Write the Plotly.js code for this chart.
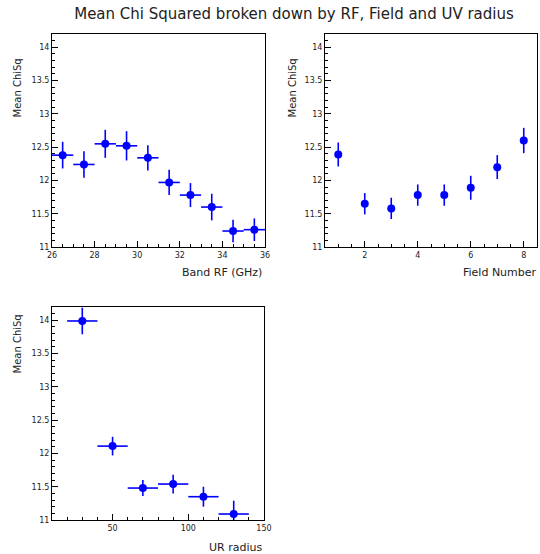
<!DOCTYPE html>
<html>
<head>
<meta charset="utf-8">
<script src="https://cdn.plot.ly/plotly-3.0.1.min.js"></script>
<style>html,body{margin:0;padding:0;background:#fff;}#chart{width:540px;height:554px;}</style>
</head>
<body>
<div id="chart"></div>
<script>
// ---- Data ----
const chartTitle = "Mean Chi Squared broken down by RF, Field and UV radius";
const yTitle = "Mean ChiSq";

// Panel 1: Band RF (GHz)
const rfX = [26.5, 27.5, 28.5, 29.5, 30.5, 31.5, 32.5, 33.5, 34.5, 35.5];
const rfY = [12.38, 12.24, 12.55, 12.52, 12.34, 11.97, 11.78, 11.60, 11.24, 11.26];
const rfErrY = [0.20, 0.20, 0.21, 0.22, 0.19, 0.19, 0.18, 0.20, 0.17, 0.17];
const rfErrX = [0.5, 0.5, 0.5, 0.5, 0.5, 0.5, 0.5, 0.5, 0.5, 0.5];
const rfTickVals = [26, 28, 30, 32, 34, 36];
const rfTickText = ["26", "28", "30", "32", "34", "36"];

// Panel 2: Field Number
const fieldX = [1, 2, 3, 4, 5, 6, 7, 8];
const fieldY = [12.39, 11.65, 11.58, 11.78, 11.78, 11.89, 12.20, 12.60];
const fieldErrY = [0.18, 0.16, 0.16, 0.16, 0.16, 0.18, 0.18, 0.19];
const fieldTickVals = [2, 4, 6, 8];
const fieldTickText = ["2", "4", "6", "8"];

// Panel 3: UV radius
const uvX = [30, 50, 70, 90, 110, 130];
const uvY = [13.99, 12.11, 11.48, 11.54, 11.35, 11.09];
const uvErrY = [0.20, 0.14, 0.12, 0.14, 0.15, 0.20];
const uvErrX = [10, 10, 10, 10, 10, 10];
const uvTickVals = [50, 100, 150];
const uvTickText = ["50", "100", "150"];

// Shared y ticks
const yTickVals = [11, 11.5, 12, 12.5, 13, 13.5, 14];
const yTickText = ["11", "11.5", "12", "12.5", "13", "13.5", "14"];

const xTitles = ["Band RF (GHz)", "Field Number", "UR radius"];

// ---- Helpers ----
const W = 540, H = 554;
const px = v => v / W;
const py = v => 1 - v / H;
const BLUE = '#0000ff';
const tickFont = {family: 'DejaVu Sans', size: 8, color: '#222'};
const titleFont = {family: 'DejaVu Sans', size: 11, color: '#222'};
const yTitleFont = {family: 'DejaVu Sans', size: 10, color: '#222'};

function axisBase(extra) {
  return Object.assign({
    showline: true, linecolor: '#000', linewidth: 1, mirror: true,
    ticks: 'inside', ticklen: 6, tickwidth: 1, tickcolor: '#000',
    showgrid: false, zeroline: false, tickfont: tickFont,
    tickmode: 'array', fixedrange: true
  }, extra);
}

function series(x, y, ey, ex, xa, ya) {
  const t = {
    type: 'scatter', mode: 'markers', x: x, y: y, xaxis: xa, yaxis: ya,
    marker: {color: BLUE, size: 8, symbol: 'circle'},
    error_y: {type: 'data', array: ey, visible: true, color: BLUE, thickness: 1.6, width: 0},
    showlegend: false, hoverinfo: 'x+y'
  };
  if (ex) t.error_x = {type: 'data', array: ex, visible: true, color: BLUE, thickness: 1.6, width: 0};
  return t;
}

const data = [
  series(rfX, rfY, rfErrY, rfErrX, 'x', 'y'),
  series(fieldX, fieldY, fieldErrY, null, 'x2', 'y2'),
  series(uvX, uvY, uvErrY, uvErrX, 'x3', 'y3')
];

const yCommon = {
  range: [11, 14.2], tickvals: yTickVals, ticktext: yTickText,
  minor: {ticks: 'inside', ticklen: 3, tickmode: 'linear', tick0: 11, dtick: 0.1, tickcolor: '#000', showgrid: false}
};

const layout = {
  width: W, height: H,
  margin: {l: 0, r: 0, t: 0, b: 0},
  paper_bgcolor: '#fff', plot_bgcolor: '#fff',
  title: {text: chartTitle, x: px(294), y: py(14), xanchor: 'center', yanchor: 'middle',
          xref: 'paper', yref: 'paper',
          font: {family: 'DejaVu Sans', size: 15, color: '#222'}},
  xaxis: axisBase({domain: [px(52), px(265)], range: [26, 36], anchor: 'y',
    tickvals: rfTickVals, ticktext: rfTickText,
    minor: {ticks: 'inside', ticklen: 3, tickmode: 'linear', tick0: 26, dtick: 0.5, tickcolor: '#000', showgrid: false}}),
  yaxis: axisBase(Object.assign({domain: [py(247), py(34)], anchor: 'x'}, yCommon)),
  xaxis2: axisBase({domain: [px(325), px(537)], range: [0.5, 8.5], anchor: 'y2',
    tickvals: fieldTickVals, ticktext: fieldTickText,
    minor: {ticks: 'inside', ticklen: 3, tickmode: 'linear', tick0: 0.5, dtick: 0.5, tickcolor: '#000', showgrid: false}}),
  yaxis2: axisBase(Object.assign({domain: [py(247), py(34)], anchor: 'x2'}, yCommon)),
  xaxis3: axisBase({domain: [px(52), px(264)], range: [10, 150], anchor: 'y3',
    tickvals: uvTickVals, ticktext: uvTickText,
    minor: {ticks: 'inside', ticklen: 3, tickmode: 'linear', tick0: 10, dtick: 10, tickcolor: '#000', showgrid: false}}),
  yaxis3: axisBase(Object.assign({domain: [py(520), py(307)], anchor: 'x3'}, yCommon)),
  annotations: [
    {text: xTitles[0], xref: 'paper', yref: 'paper', x: px(264), y: py(272), xanchor: 'right', yanchor: 'middle', showarrow: false, font: titleFont},
    {text: xTitles[1], xref: 'paper', yref: 'paper', x: px(539), y: py(272), xanchor: 'right', yanchor: 'middle', showarrow: false, font: titleFont},
    {text: xTitles[2], xref: 'paper', yref: 'paper', x: px(264), y: py(547), xanchor: 'right', yanchor: 'middle', showarrow: false, font: titleFont},
    {text: yTitle, xref: 'paper', yref: 'paper', x: px(17), y: py(57), xanchor: 'center', yanchor: 'top', textangle: -90, showarrow: false, font: yTitleFont},
    {text: yTitle, xref: 'paper', yref: 'paper', x: px(292), y: py(57), xanchor: 'center', yanchor: 'top', textangle: -90, showarrow: false, font: yTitleFont},
    {text: yTitle, xref: 'paper', yref: 'paper', x: px(17), y: py(313), xanchor: 'center', yanchor: 'top', textangle: -90, showarrow: false, font: yTitleFont}
  ]
};

Plotly.newPlot('chart', data, layout, {displayModeBar: false, staticPlot: true});
</script>
</body>
</html>
